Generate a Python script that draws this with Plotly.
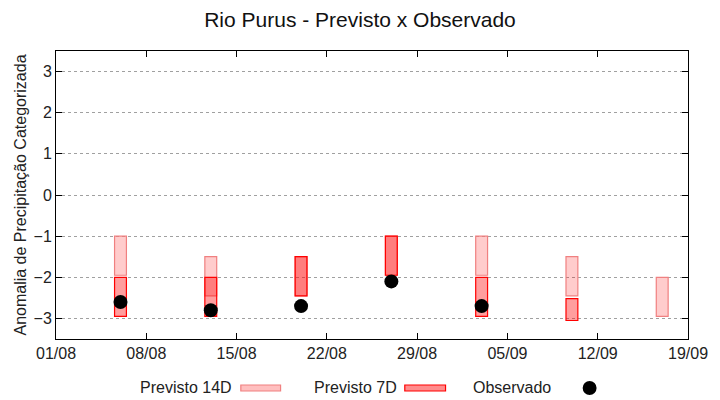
import plotly.graph_objects as go

# ---- data ----
dates = ["2024-08-06", "2024-08-13", "2024-08-20", "2024-08-27",
         "2024-09-03", "2024-09-10", "2024-09-17"]
p14_top = [-1.0, -1.5, -1.5, -1.0, -1.0, -1.5, -2.0]
p14_bot = [-1.95, -2.45, -2.45, -1.95, -1.95, -2.45, -2.95]
p7_top = [-2.0, -2.0, -1.5, -1.0, -2.0, -2.52, None]
p7_bot = [-2.95, -2.95, -2.45, -1.95, -2.95, -3.05, None]
obs_dates = ["2024-08-06", "2024-08-13", "2024-08-20", "2024-08-27", "2024-09-03"]
obs_vals = [-2.6, -2.8, -2.7, -2.1, -2.7]
xtick_dates = ["2024-08-01", "2024-08-08", "2024-08-15", "2024-08-22",
               "2024-08-29", "2024-09-05", "2024-09-12", "2024-09-19"]
xtick_labels = ["01/08", "08/08", "15/08", "22/08", "29/08", "05/09", "12/09", "19/09"]
ytick_vals = [-3, -2, -1, 0, 1, 2, 3]

FONT = "Liberation Sans, Arial, sans-serif"
DAY = 86400000
BW = 0.92 * DAY

fig = go.Figure()

fig.add_trace(go.Bar(
    x=dates, y=[t - b for t, b in zip(p14_top, p14_bot)], base=p14_bot,
    width=[BW] * len(dates),
    marker=dict(color="rgba(255,0,0,0.2)", line=dict(color="#F08080", width=1.2)),
    name="Previsto 14D", showlegend=False))

d7 = [d for d, t in zip(dates, p7_top) if t is not None]
t7 = [t for t in p7_top if t is not None]
b7 = [b for b in p7_bot if b is not None]
fig.add_trace(go.Bar(
    x=d7, y=[t - b for t, b in zip(t7, b7)], base=b7,
    width=[BW] * len(d7),
    marker=dict(color="rgba(255,0,0,0.38)", line=dict(color="#FF0000", width=1.2)),
    name="Previsto 7D", showlegend=False))

fig.add_trace(go.Scatter(
    x=obs_dates, y=obs_vals, mode="markers",
    marker=dict(color="black", size=14, symbol="circle"),
    name="Observado", showlegend=False))

L, R, T, B = 56, 28, 51, 61
W, H = 720, 400
pw, ph = W - L - R, H - T - B

def px(x):
    return (x - L) / pw

def py(y):
    return (H - B - y) / ph

ann = []
shapes = []
for label, xr in [("Previsto 14D", 233), ("Previsto 7D", 399), ("Observado", 554)]:
    ann.append(dict(text=label, x=px(xr + 2), y=py(387), xref="paper", yref="paper",
                    xanchor="right", yanchor="middle", showarrow=False,
                    font=dict(family=FONT, size=16, color="#222")))
shapes.append(dict(type="rect", xref="paper", yref="paper",
                   x0=px(242), x1=px(282), y0=py(391), y1=py(385),
                   fillcolor="rgba(255,0,0,0.25)", line=dict(color="#F08080", width=1.2)))
shapes.append(dict(type="rect", xref="paper", yref="paper",
                   x0=px(407), x1=px(448), y0=py(391), y1=py(385),
                   fillcolor="rgba(255,0,0,0.45)", line=dict(color="#FF0000", width=1.2)))
shapes.append(dict(type="circle", xref="paper", yref="paper",
                   x0=px(586), x1=px(600), y0=py(395), y1=py(381),
                   fillcolor="black", line=dict(color="black", width=0)))

fig.update_layout(
    width=W, height=H,
    margin=dict(l=L, r=R, t=T, b=B),
    paper_bgcolor="white", plot_bgcolor="white",
    barmode="overlay",
    font=dict(family=FONT, size=16, color="#222"),
    title=dict(text="Rio Purus - Previsto x Observado", x=0.5, xanchor="center",
               y=1 - 20 / H, yanchor="middle", yref="container",
               font=dict(family=FONT, size=21, color="#111")),
    xaxis=dict(type="date", range=["2024-08-01", "2024-09-19"],
               tickvals=xtick_dates, ticktext=xtick_labels,
               ticks="inside", ticklen=6, tickcolor="black", tickwidth=1,
               showline=True, linecolor="black", linewidth=1, mirror="allticks",
               showgrid=False, zeroline=False,
               tickfont=dict(family=FONT, size=16, color="#222")),
    yaxis=dict(range=[-3.5, 3.5], tickvals=ytick_vals,
               ticks="inside", ticklen=6, tickcolor="black", tickwidth=1,
               showline=True, linecolor="black", linewidth=1, mirror="allticks",
               showgrid=True, gridcolor="#A0A0A0", griddash="dot", gridwidth=1,
               zeroline=False,
               title=dict(text="Anomalia de Precipitação Categorizada", standoff=2,
                          font=dict(family=FONT, size=16, color="#222")),
               tickfont=dict(family=FONT, size=16, color="#222")),
    annotations=ann, shapes=shapes,
)

fig.write_html("out.html", config={"displayModeBar": False},
               post_script="document.body.style.margin='0';document.body.style.padding='0';")
